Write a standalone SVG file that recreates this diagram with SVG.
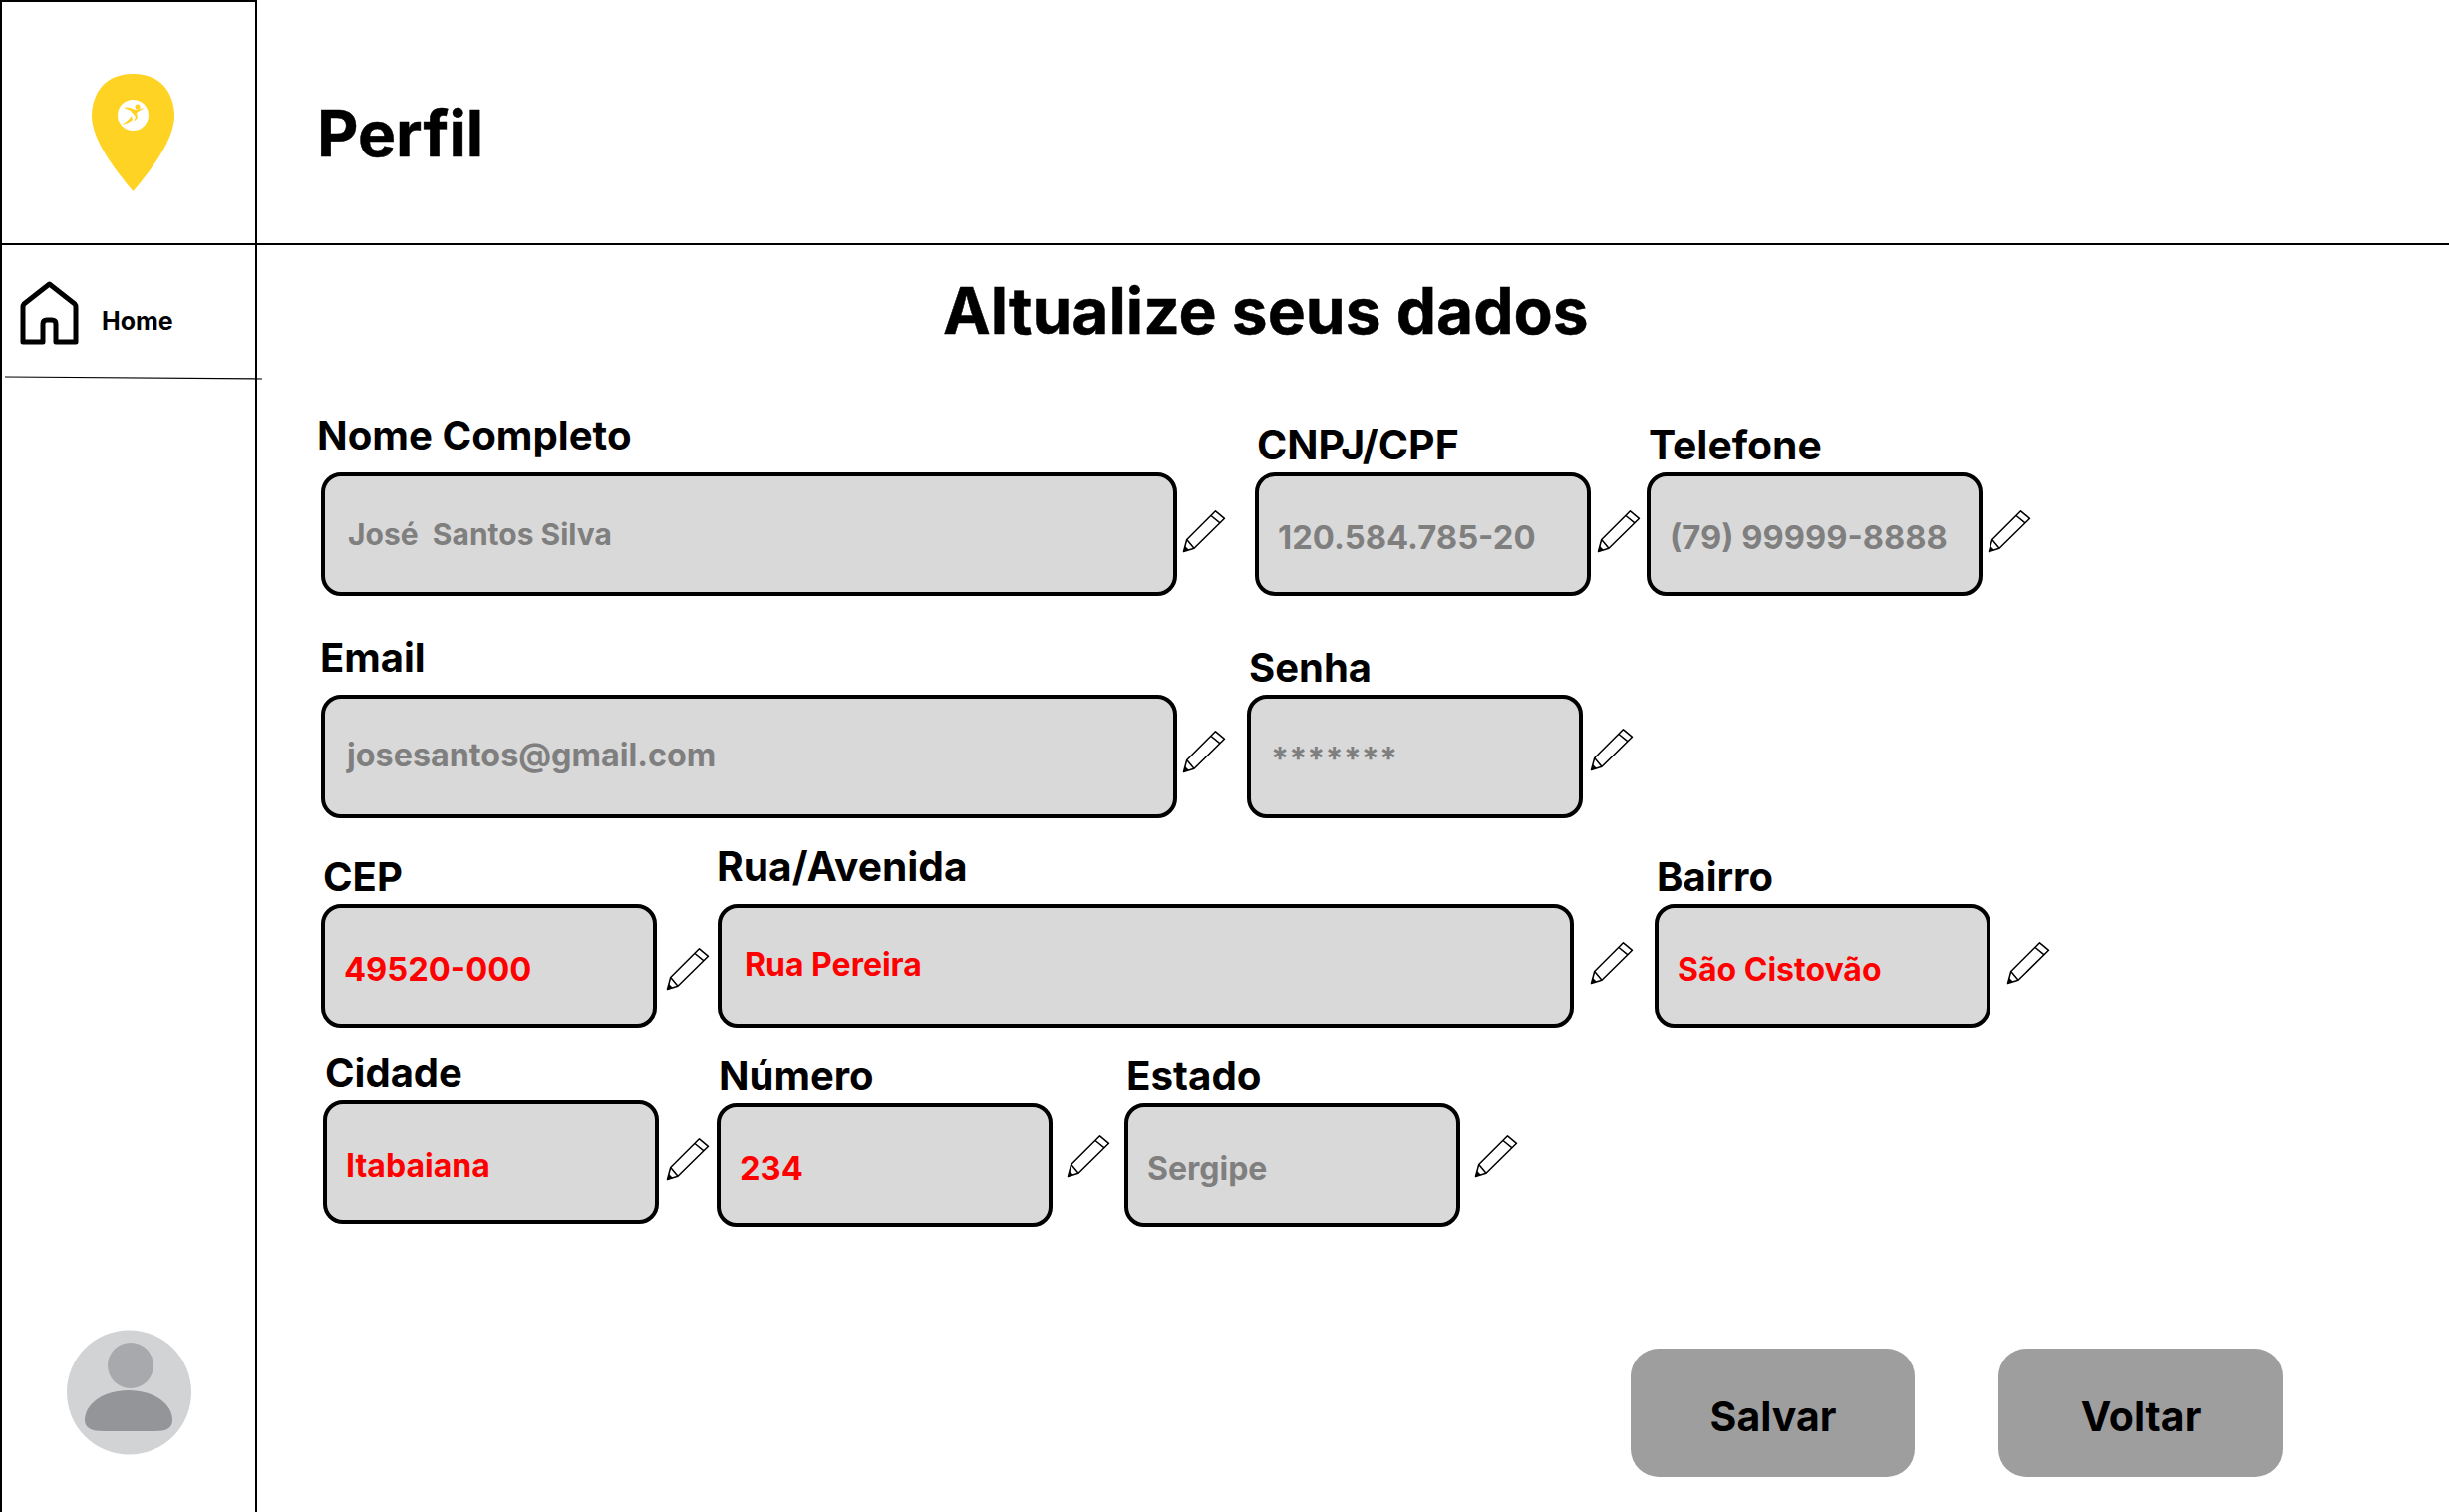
<svg xmlns="http://www.w3.org/2000/svg" xmlns:xlink="http://www.w3.org/1999/xlink" width="2457" height="1517" viewBox="0 0 2457 1517">
<style>
text{font-family:Inter,"Liberation Sans",sans-serif;white-space:pre}
.h{font-size:64px;font-weight:700;fill:#000;stroke:#000;stroke-width:.5}
.l{font-size:40px;font-weight:700;fill:#000}
.v{font-size:32px;font-weight:700;fill:#7f7f7f}
.r{fill:#f00}
.b{fill:#d9d9d9;stroke:#000;stroke-width:4}
.btn{fill:#9e9e9e}
.t{font-size:41px;font-weight:700;fill:#000;text-anchor:middle}
.line{stroke:#000;stroke-width:2;fill:none}
.p{fill:#fff;stroke:#000;stroke-width:1.500;stroke-linejoin:round}
</style>
<defs>
<g id="pencil"><path class="p" d="M0.500 41.500L3.700 29.500L32.500 0.800L41.500 8.300L11 38.300Z"/><path class="p" fill="none" d="M3.700 29.500L11 38.300M28 5.500L37 12.800"/><path d="M0.500 41.500L2 36L6 40Z"/></g>
</defs>
<rect width="2457" height="1517" fill="#fff"/>
<g id="frame">
<path class="line" d="M1 0V1517M0 1H257M257 0V1517M0 245H2457"/>
<path d="M5 378L263 380" stroke="#000" stroke-width="1.200" fill="none"/>
</g>
<g id="logo">
<path fill="#ffd324" d="M133.500 74C168 74 175 102 175 116C175 140 152 170 133.500 192C115 170 92 140 92 116C92 102 99 74 133.500 74Z"/>
<circle cx="133.500" cy="115.500" r="15.500" fill="#fff"/>
<circle cx="138" cy="107" r="2.500" fill="#ffd324"/>
<path fill="#ffd324" d="M124 108C130 106 134 110 136 110L145 108L137 113L138 118L134 122L136 117L131 111Q127 109 124 108ZM122 125Q129 121 132 116L133 120Q129 124 122 125Z"/>
</g>
<g id="home">
<path fill="none" stroke="#000" stroke-width="5" stroke-linejoin="round" d="M49.500 285L24 305Q23 306 23 309V343H43V325Q43 321 47 321H52Q56 321 56 325V343H76V309Q76 306 75 305Z"/>
<text x="102" y="331" style="font-size:25px;font-weight:700">Home</text>
</g>
<g id="title"><text class="h" x="318" y="157">Perfil</text></g>
<g id="subtitle"><text class="h" x="946" y="335">Altualize seus dados</text></g>

<g id="field-nome"><text class="l" x="318" y="451" style="font-size:40.200px">Nome Completo</text><rect class="b" x="324" y="476" width="855" height="120" rx="18"/><text class="v" x="349" y="547" style="font-size:30px">José  Santos Silva</text><use xlink:href="#pencil" x="1187" y="512"/></g>
<g id="field-cnpj"><text class="l" x="1261" y="461" style="font-size:41px">CNPJ/CPF</text><rect class="b" x="1261" y="476" width="333" height="120" rx="18"/><text class="v" x="1282" y="551" style="font-size:32.800px">120.584.785-20</text><use xlink:href="#pencil" x="1603" y="512"/></g>
<g id="field-telefone"><text class="l" x="1654" y="461" style="font-size:40.800px">Telefone</text><rect class="b" x="1654" y="476" width="333" height="120" rx="18"/><text class="v" x="1675" y="551" style="font-size:32.700px">(79) 99999-8888</text><use xlink:href="#pencil" x="1995" y="512"/></g>
<g id="field-email"><text class="l" x="321" y="674">Email</text><rect class="b" x="324" y="699" width="855" height="120" rx="18"/><text class="v" x="348" y="769" style="font-size:32.300px">josesantos@gmail.com</text><use xlink:href="#pencil" x="1187" y="733"/></g>
<g id="field-senha"><text class="l" x="1253" y="684">Senha</text><rect class="b" x="1253" y="699" width="333" height="120" rx="18"/><text class="v" x="1275" y="773" style="font-size:32.500px">*******</text><use xlink:href="#pencil" x="1596" y="731"/></g>
<g id="field-cep"><text class="l" x="324" y="894">CEP</text><rect class="b" x="324" y="909" width="333" height="120" rx="18"/><text class="v r" x="345" y="984" style="font-size:32.700px">49520-000</text><use xlink:href="#pencil" x="669" y="951"/></g>
<g id="field-rua"><text class="l" x="719" y="884" style="font-size:40.700px">Rua/Avenida</text><rect class="b" x="722" y="909" width="855" height="120" rx="18"/><text class="v r" x="747" y="979">Rua Pereira</text><use xlink:href="#pencil" x="1596" y="945"/></g>
<g id="field-bairro"><text class="l" x="1662" y="894">Bairro</text><rect class="b" x="1662" y="909" width="333" height="120" rx="18"/><text class="v r" x="1683" y="984">São Cistovão</text><use xlink:href="#pencil" x="2014" y="945"/></g>
<g id="field-cidade"><text class="l" x="326" y="1091">Cidade</text><rect class="b" x="326" y="1106" width="333" height="120" rx="18"/><text class="v r" x="347" y="1181">Itabaiana</text><use xlink:href="#pencil" x="669" y="1142"/></g>
<g id="field-numero"><text class="l" x="721" y="1094">Número</text><rect class="b" x="721" y="1109" width="333" height="120" rx="18"/><text class="v r" x="742" y="1184" style="font-size:32.700px">234</text><use xlink:href="#pencil" x="1071" y="1139"/></g>
<g id="field-estado"><text class="l" x="1130" y="1094" style="font-size:40.300px">Estado</text><rect class="b" x="1130" y="1109" width="333" height="120" rx="18"/><text class="v" x="1151" y="1184">Sergipe</text><use xlink:href="#pencil" x="1480" y="1139"/></g>

<g id="btn-salvar"><rect class="btn" x="1636" y="1353" width="285" height="129" rx="28"/><text class="t" x="1779" y="1436">Salvar</text></g>
<g id="btn-voltar"><rect class="btn" x="2005" y="1353" width="285" height="129" rx="28"/><text class="t" x="2148" y="1436">Voltar</text></g>
<g id="avatar">
<circle cx="129.500" cy="1397" r="62.500" fill="#d1d3d4"/>
<circle cx="131" cy="1370" r="23" fill="#a7a9ac"/>
<path fill="#939598" d="M129 1395C155 1395 173 1409 173 1425C173 1433 167 1436 155 1436H104C92 1436 85 1433 85 1425C85 1409 103 1395 129 1395Z"/>
</g>
</svg>
